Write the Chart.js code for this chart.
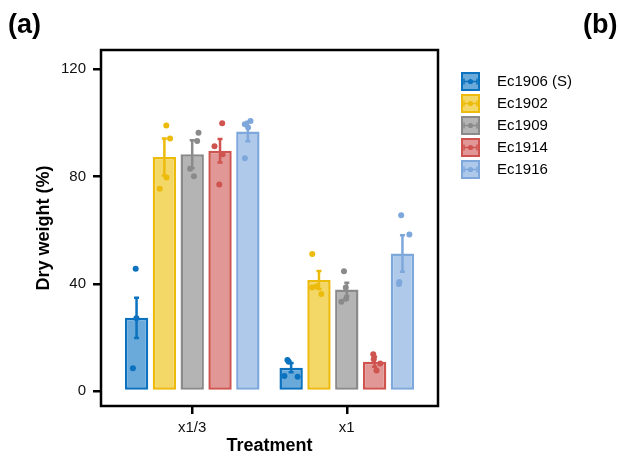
<!DOCTYPE html>
<html>
<head>
<meta charset="utf-8">
<script src="https://cdn.jsdelivr.net/npm/chart.js@4"></script>
<style>
  html, body { margin: 0; padding: 0; background: #fff; }
  #wrap { width: 619px; height: 457px; }
</style>
</head>
<body>
<div id="wrap"><canvas id="chart" width="619" height="457"></canvas></div>
<script>
// values
var categories = ['x1/3', 'x1'];
var strains = ['Ec1906 (S)', 'Ec1902', 'Ec1909', 'Ec1914', 'Ec1916'];
var yTicks = [0, 40, 80, 120];

var meanX13 = [27.3, 87.3, 88.3, 89.6, 96.8];
var meanX1 = [8.7, 41.4, 37.9, 10.9, 51.3];
var errX13 = [7.5, 6.9, 5.2, 4.4, 3.6];
var errX1 = [1.7, 3.4, 2.5, 1.9, 6.8];

var pointsX13 = [
    [45.6, 27.1, 8.5],
    [99.0, 94.2, 79.6, 75.4],
    [96.3, 93.3, 82.9, 80.1],
    [99.9, 91.3, 88.3, 77.0],
    [100.7, 99.5, 98.3, 86.8]
];
var pointsX1 = [
    [11.6, 10.9, 5.6, 5.3],
    [51.1, 39.1, 38.6, 36.2],
    [44.7, 38.6, 34.4, 33.3],
    [13.7, 11.8, 10.3, 7.6],
    [65.6, 58.4, 40.7, 39.9]
];

var lineColors = ['#0A72BE', '#EDBB0C', '#8A8A8A', '#CF5450', '#7EA8DC'];
var fillColors = ['#6AAADA', '#F3D868', '#B4B4B4', '#E19795', '#AFC9EA'];
var FONT = '"Liberation Sans", Arial, Helvetica, sans-serif';

// small deterministic horizontal spread for the dots
function jitter(s, g, k) {
    var h = Math.sin((s + 1) * 12.9898 + (g + 1) * 78.233 + (k + 1) * 37.719) * 43758.5453;
    return (h - Math.floor(h)) * 2 - 1;
}

var means = [meanX13, meanX1];
var errs = [errX13, errX1];
var pts = [pointsX13, pointsX1];

var datasets = strains.map(function (name, s) {
    return {
        label: name,
        data: categories.map(function (c, g) { return { x: g, y: means[g][s] }; }),
        backgroundColor: fillColors[s],
        borderColor: lineColors[s],
        borderWidth: 2.5,
        borderSkipped: false,
        categoryPercentage: 0.9,
        barPercentage: 0.84
    };
});

var extras = {
    id: 'extras',
    afterDatasetsDraw: function (chart) {
        var ctx = chart.ctx;
        var y = chart.scales.y;
        chart.data.datasets.forEach(function (ds, s) {
            var meta = chart.getDatasetMeta(s);
            meta.data.forEach(function (bar, g) {
                var m = means[g][s], e = errs[g][s];
                var top = y.getPixelForValue(m + e), bot = y.getPixelForValue(m - e);
                ctx.save();
                ctx.strokeStyle = lineColors[s];
                ctx.fillStyle = lineColors[s];
                ctx.lineWidth = 2.5;
                ctx.beginPath();
                ctx.moveTo(bar.x, top); ctx.lineTo(bar.x, bot);
                ctx.moveTo(bar.x - 2.5, top); ctx.lineTo(bar.x + 2.5, top);
                ctx.moveTo(bar.x - 2.5, bot); ctx.lineTo(bar.x + 2.5, bot);
                ctx.stroke();
                pts[g][s].forEach(function (v, k) {
                    ctx.beginPath();
                    ctx.arc(bar.x + jitter(s, g, k) * bar.width * 0.3, y.getPixelForValue(v), 3, 0, Math.PI * 2);
                    ctx.fill();
                });
                ctx.restore();
            });
        });
    },
    afterDraw: function (chart) {
        var ctx = chart.ctx, a = chart.chartArea;
        ctx.save();
        // panel frame
        ctx.strokeStyle = '#000';
        ctx.lineWidth = 2.5;
        ctx.strokeRect(a.left, a.top, a.right - a.left, a.bottom - a.top);

        // panel letters
        ctx.fillStyle = '#000';
        ctx.font = 'bold 27px ' + FONT;
        ctx.textBaseline = 'alphabetic';
        ctx.textAlign = 'left';
        ctx.fillText('(a)', 8, 33);
        ctx.fillText('(b)', 583, 33);

        // legend
        ctx.font = '15px ' + FONT;
        ctx.textBaseline = 'middle';
        strains.forEach(function (name, i) {
            var x0 = 461, y0 = 72 + i * 22, sz = 19;
            ctx.fillStyle = fillColors[i];
            ctx.fillRect(x0, y0, sz, sz);
            ctx.strokeStyle = lineColors[i];
            ctx.lineWidth = 2;
            ctx.strokeRect(x0 + 1, y0 + 1, sz - 2, sz - 2);
            var cy = y0 + sz / 2;
            ctx.lineWidth = 1.5;
            ctx.beginPath();
            ctx.moveTo(x0 + 3, cy); ctx.lineTo(x0 + sz - 3, cy);
            ctx.moveTo(x0 + 3, cy - 3); ctx.lineTo(x0 + 3, cy + 3);
            ctx.moveTo(x0 + sz - 3, cy - 3); ctx.lineTo(x0 + sz - 3, cy + 3);
            ctx.stroke();
            ctx.fillStyle = lineColors[i];
            ctx.beginPath();
            ctx.arc(x0 + sz / 2, cy, 2.6, 0, Math.PI * 2);
            ctx.fill();
            ctx.fillStyle = '#000';
            ctx.fillText(name, 497, cy + 0.5);
        });
        ctx.restore();
    }
};

var ctx = document.getElementById('chart').getContext('2d');
var chart = new Chart(ctx, {
    type: 'bar',
    data: { datasets: datasets },
    options: {
        responsive: false,
        animation: false,
        layout: { padding: { left: 0, top: 50, right: 181, bottom: 0 } },
        scales: {
            x: {
                type: 'linear',
                min: -0.59,
                max: 1.59,
                offset: false,
                afterFit: function (scale) { scale.height = 51; },
                afterBuildTicks: function (scale) {
                    scale.ticks = categories.map(function (c, g) { return { value: g }; });
                },
                grid: { offset: false, drawOnChartArea: false, color: '#000', tickLength: 8, lineWidth: 2.5 },
                border: { display: false },
                ticks: {
                    padding: 5,
                    color: '#111',
                    font: { family: FONT, size: 15 },
                    callback: function (value) { return categories[value] || ''; }
                },
                title: {
                    display: true,
                    text: 'Treatment',
                    color: '#000',
                    padding: { top: 0, bottom: 0 },
                    font: { family: FONT, size: 18, weight: 'bold' }
                }
            },
            y: {
                min: -5.6,
                max: 127.2,
                afterFit: function (scale) { scale.width = 101; },
                afterBuildTicks: function (scale) {
                    scale.ticks = yTicks.map(function (v) { return { value: v }; });
                },
                grid: { drawOnChartArea: false, color: '#000', tickLength: 8, lineWidth: 2.5 },
                border: { display: false },
                ticks: {
                    padding: 7,
                    color: '#111',
                    font: { family: FONT, size: 15 }
                },
                title: {
                    display: true,
                    text: 'Dry weight (%)',
                    color: '#000',
                    padding: { top: 33, bottom: 0 },
                    font: { family: FONT, size: 18, weight: 'bold' }
                }
            }
        },
        plugins: {
            legend: { display: false },
            tooltip: { enabled: false }
        }
    },
    plugins: [extras]
});
</script>
</body>
</html>
